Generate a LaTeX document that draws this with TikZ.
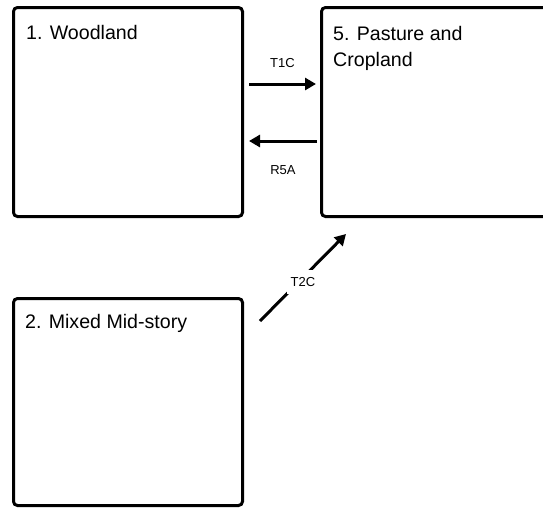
\documentclass[tikz,border=0pt]{standalone}
\usepackage{fontspec}
\setmainfont{Liberation Sans}
\usetikzlibrary{arrows.meta,positioning}

\begin{document}
\begin{tikzpicture}[x=1pt, y=-1pt,
        state/.style={draw, line width=3pt, rounded corners=4pt, minimum width=229pt, inner sep=0pt},
        title/.style={anchor=north west, inner sep=0pt, align=left, font=\fontsize{19.6}{26.5}\selectfont},
        trans/.style={line width=3pt, -{Triangle[length=11pt,width=12pt]}},
        code/.style={font=\fontsize{13}{15}\selectfont}]
    \useasboundingbox (0,0) rectangle (543,509);
    % states
    \node[state, minimum height=209pt] (woodland) at (128,112) {};
    \node[state, minimum height=209pt] (pasture) at (436,112) {};
    \node[state, minimum height=207pt] (midstory) at (128,402) {};
    \node[title] (woodland-t) at ([xshift=14pt, yshift=-19.5pt]woodland.north west) {1. Woodland};
    \node[title] (pasture-t) at ([xshift=13pt, yshift=-20pt]pasture.north west) {5. Pasture and\\Cropland};
    \node[title] (midstory-t) at ([xshift=13pt, yshift=-17pt]midstory.north west) {2. Mixed Mid-story};
    % transitions
    \coordinate (t1c-s) at (249,84);
    \coordinate (t1c-e) at (316,84);
    \coordinate (r5a-s) at (317,141);
    \coordinate (r5a-e) at (249,141);
    \coordinate (t2c-s) at (260,321);
    \coordinate (t2c-e) at (346,234);
    \draw[trans] (t1c-s) -- node[code, midway, above=12pt] (t1c) {T1C} (t1c-e);
    \draw[trans] (r5a-s) -- node[code, midway, below=20pt] (r5a) {R5A} (r5a-e);
    \draw[trans] (t2c-s) -- node[code, midway, yshift=-4.5pt, fill=white, inner xsep=4pt, inner ysep=7pt] (t2c) {T2C} (t2c-e);
\end{tikzpicture}
\end{document}
